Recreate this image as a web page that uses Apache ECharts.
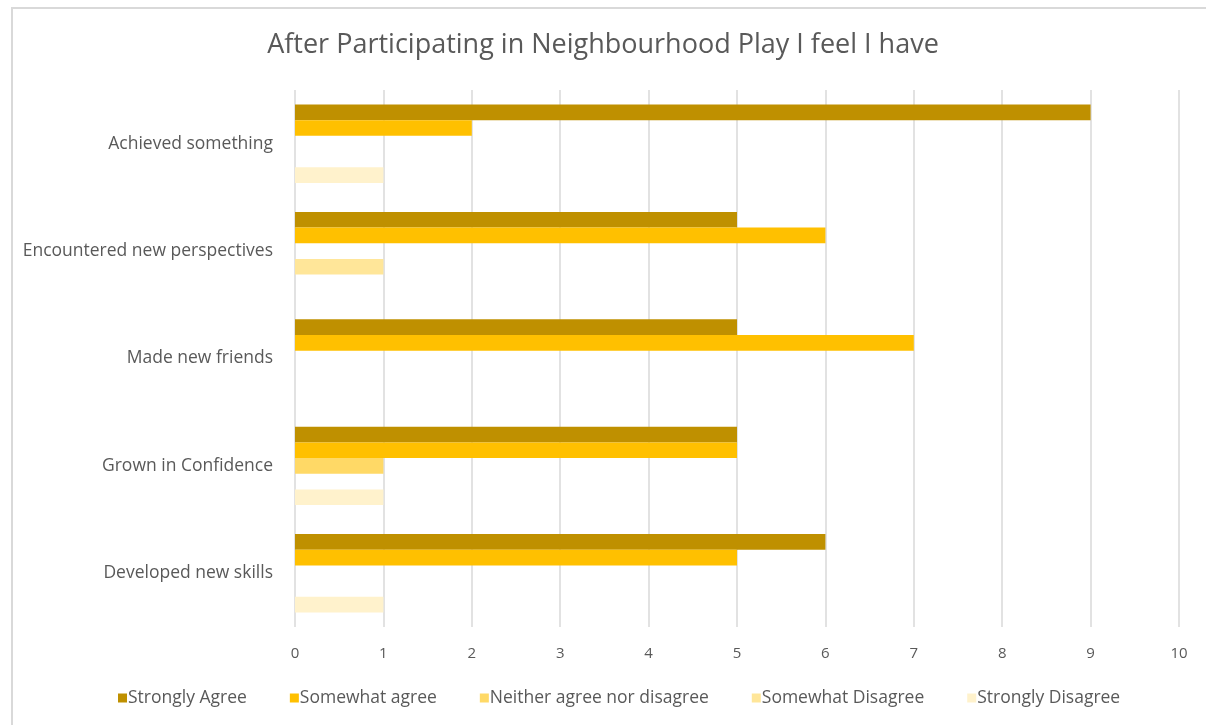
<!DOCTYPE html>
<html>
<head>
<meta charset="utf-8">
<script src="https://cdn.jsdelivr.net/npm/echarts@6/dist/echarts.min.js"></script>
<style>
html,body{margin:0;padding:0;background:#fff;}
#chart{width:1206px;height:725px;}
</style>
</head>
<body>
<div id="chart"></div>
<script>
const categories = ["Achieved something", "Encountered new perspectives", "Made new friends", "Grown in Confidence", "Developed new skills"];
const seriesNames = ["Strongly Agree", "Somewhat agree", "Neither agree nor disagree", "Somewhat Disagree", "Strongly Disagree"];
const stronglyAgree = [9, 5, 5, 5, 6];
const somewhatAgree = [2, 6, 7, 5, 5];
const neither = [0, 0, 0, 1, 0];
const somewhatDisagree = [0, 1, 0, 0, 0];
const stronglyDisagree = [1, 0, 0, 1, 1];
const xTicks = [0, 1, 2, 3, 4, 5, 6, 7, 8, 9, 10];
const title = "After Participating in Neighbourhood Play I feel I have";

const colors = ["#BF9000", "#FFC000", "#FFD966", "#FFE699", "#FFF2CC"];
const values = [stronglyAgree, somewhatAgree, neither, somewhatDisagree, stronglyDisagree];
const font = "Open Sans";

const chart = echarts.init(document.getElementById('chart'), null, {renderer: 'canvas'});
chart.setOption({
  animation: false,
  backgroundColor: '#fff',
  color: colors,
  title: {
    text: title,
    left: 'center',
    top: 27,
    textStyle: {fontFamily: font, fontSize: 27, fontWeight: 'normal', color: '#595959'}
  },
  graphic: [{
    type: 'rect',
    shape: {x: 12, y: 8, width: 1300, height: 800},
    style: {fill: 'none', stroke: '#d9d9d9', lineWidth: 2}
  }],
  legend: {
    left: 113,
    top: 684,
    itemWidth: 9,
    itemHeight: 9,
    itemGap: 43,
    icon: 'rect',
    data: seriesNames,
    textStyle: {fontFamily: font, fontSize: 17.5, color: '#595959', padding: [0, 0, 0, -4]}
  },
  grid: {left: 295, right: 27, top: 90, bottom: 98},
  xAxis: {
    type: 'value',
    min: xTicks[0],
    max: xTicks[xTicks.length - 1],
    interval: 1,
    axisLine: {show: false},
    axisTick: {show: false},
    axisLabel: {fontFamily: font, fontSize: 15, color: '#595959', margin: 19},
    splitLine: {lineStyle: {color: '#d9d9d9', width: 1.5}}
  },
  yAxis: {
    type: 'category',
    inverse: true,
    data: categories,
    axisLine: {show: false},
    axisTick: {show: false},
    axisLabel: {fontFamily: font, fontSize: 17.5, color: '#595959', margin: 22}
  },
  series: seriesNames.map((n, i) => ({
    name: n,
    type: 'bar',
    data: values[i],
    barGap: '0%',
    barCategoryGap: '27%',
    itemStyle: {color: colors[i]}
  }))
});
</script>
</body>
</html>
